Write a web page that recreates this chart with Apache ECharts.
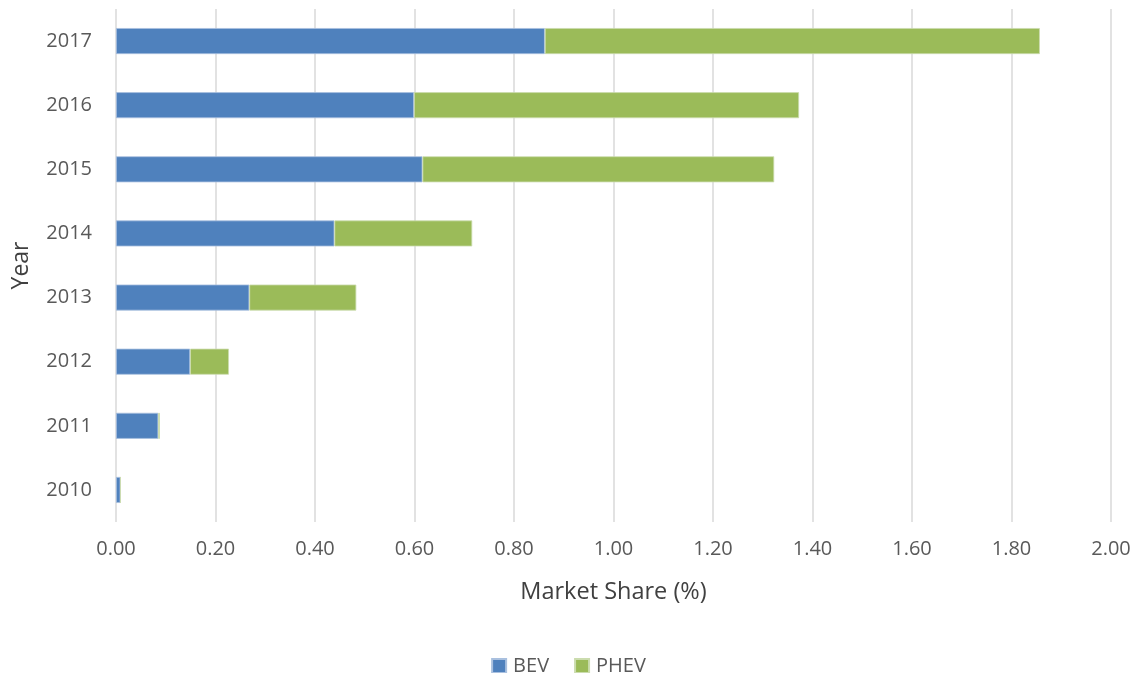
<!DOCTYPE html>
<html><head><meta charset="utf-8">
<script src="https://cdn.jsdelivr.net/npm/echarts@6/dist/echarts.min.js"></script>
<style>html,body{margin:0;padding:0;background:#fff}#c{width:1137px;height:673px}</style>
</head><body><div id="c"></div>
<script>
const years = ['2010','2011','2012','2013','2014','2015','2016','2017'];
const bev  = [0.009, 0.085, 0.149, 0.268, 0.439, 0.616, 0.599, 0.862];
const phev = [0.000, 0.003, 0.078, 0.215, 0.277, 0.707, 0.774, 0.995];
const xTicks = {min: 0, max: 2, interval: 0.2};
const FONT = '"Open Sans", sans-serif';
const chart = echarts.init(document.getElementById('c'));
chart.setOption({
  animation: false,
  textStyle: {fontFamily: FONT},
  grid: {left: 116, right: 26, top: 9, bottom: 151, containLabel: false},
  legend: {
    top: 651, left: 'center', itemWidth: 14, itemHeight: 14, itemGap: 25,
    icon: 'rect',
    textStyle: {fontSize: 20, color: '#595959', fontFamily: FONT, padding: [0, 0, 0, 2]},
    data: ['BEV', 'PHEV']
  },
  xAxis: {
    type: 'value', min: xTicks.min, max: xTicks.max, interval: xTicks.interval,
    name: 'Market Share (%)', nameLocation: 'middle', nameGap: 58,
    nameTextStyle: {fontSize: 23.5, color: '#404040', fontFamily: FONT},
    axisLine: {show: false}, axisTick: {show: false},
    axisLabel: {fontSize: 20, color: '#595959', margin: 17, formatter: v => v.toFixed(2)},
    splitLine: {lineStyle: {color: '#d9d9d9', width: 1.5}}
  },
  yAxis: {
    type: 'category', data: years,
    name: 'Year', nameLocation: 'middle', nameGap: 83, nameRotate: 90,
    nameTextStyle: {fontSize: 23, color: '#404040', fontFamily: FONT},
    axisLine: {show: false}, axisTick: {show: false},
    axisLabel: {fontSize: 20, color: '#595959', margin: 24}
  },
  series: [
    {name: 'BEV', type: 'bar', stack: 't', data: bev, barWidth: 26,
     itemStyle: {color: '#4f81bd', borderColor: '#a9c0df', borderWidth: 0.8}},
    {name: 'PHEV', type: 'bar', stack: 't', data: phev, barWidth: 26,
     itemStyle: {color: '#9bbb59', borderColor: '#cbdcae', borderWidth: 0.8}}
  ]
});
</script></body></html>
